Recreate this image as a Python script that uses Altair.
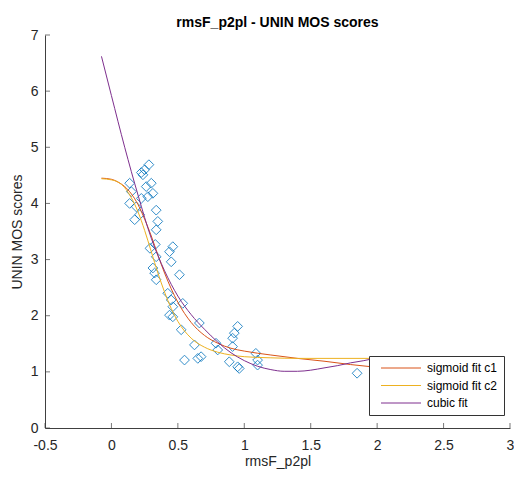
import altair as alt
import pandas as pd

title_text = "rmsF_p2pl - UNIN MOS scores"
x_title = "rmsF_p2pl"
y_title = "UNIN MOS scores"

# scatter (diamonds)
pt_x = [0.282, 0.25, 0.225, 0.237, 0.137, 0.30, 0.262, 0.15, 0.312, 0.274, 0.225, 0.137,
        0.187, 0.337, 0.212, 0.175, 0.349, 0.337, 0.29, 0.33, 0.462, 0.437, 0.45, 0.337,
        0.312, 0.325, 0.337, 0.512, 0.424, 0.45, 0.537, 0.462, 0.437, 0.462, 0.662, 0.525,
        0.625, 0.787, 0.80, 0.95, 0.925, 0.912, 0.912, 0.55, 0.65, 0.675, 0.887, 0.962,
        0.95, 1.087, 1.10, 1.10, 1.849]
pt_y = [4.69, 4.60, 4.55, 4.51, 4.36, 4.36, 4.30, 4.21, 4.18, 4.12, 4.09, 4.00,
        3.94, 3.88, 3.80, 3.71, 3.68, 3.53, 3.20, 3.27, 3.23, 3.14, 2.96, 3.05,
        2.85, 2.76, 2.64, 2.73, 2.40, 2.28, 2.22, 2.16, 2.01, 1.98, 1.87, 1.75,
        1.48, 1.51, 1.39, 1.81, 1.69, 1.60, 1.45, 1.21, 1.24, 1.27, 1.18, 1.06,
        1.09, 1.33, 1.21, 1.12, 0.975]

# fitted curves
c1_x = [-0.075, 0.0, 0.05, 0.1, 0.15, 0.2, 0.25, 0.3, 0.35, 0.4, 0.45, 0.5, 0.6, 0.7,
        0.8, 0.9, 1.0, 1.2, 1.4, 1.6, 1.8, 2.0]
c1_y = [4.45, 4.43, 4.38, 4.30, 4.17, 3.98, 3.72, 3.42, 3.08, 2.76, 2.48, 2.24, 1.88, 1.65,
        1.51, 1.42, 1.37, 1.30, 1.24, 1.19, 1.13, 1.08]
c2_x = [-0.075, 0.0, 0.05, 0.1, 0.15, 0.2, 0.25, 0.3, 0.35, 0.4, 0.45, 0.5, 0.6, 0.7,
        0.8, 0.9, 1.0, 1.2, 1.4, 2.0]
c2_y = [4.44, 4.42, 4.38, 4.28, 4.10, 3.85, 3.52, 3.14, 2.76, 2.42, 2.13, 1.90, 1.60, 1.44,
        1.35, 1.30, 1.27, 1.25, 1.24, 1.24]
cub_x = [-0.075, 0.0, 0.1, 0.2, 0.3, 0.4, 0.5, 0.6, 0.7, 0.8, 0.9, 1.0, 1.1, 1.2, 1.3,
         1.4, 1.5, 1.6, 1.7, 1.8, 1.9, 2.0]
cub_y = [6.62, 5.92, 5.00, 4.15, 3.38, 2.80, 2.35, 2.02, 1.76, 1.53, 1.34, 1.20, 1.10, 1.04,
         1.01, 1.01, 1.03, 1.07, 1.11, 1.16, 1.20, 1.25]

series_names = ["sigmoid fit c1", "sigmoid fit c2", "cubic fit"]
series_colors = ["#D95319", "#EDB120", "#7E2F8E"]

x_ticks = [-0.5, 0, 0.5, 1, 1.5, 2, 2.5, 3]
y_ticks = [0, 1, 2, 3, 4, 5, 6, 7]

FONT = "Liberation Sans"

pts = pd.DataFrame({"x": pt_x, "y": pt_y})
lines = pd.concat([
    pd.DataFrame({"x": c1_x, "y": c1_y, "s": series_names[0], "o": 0}),
    pd.DataFrame({"x": c2_x, "y": c2_y, "s": series_names[1], "o": 1}),
    pd.DataFrame({"x": cub_x, "y": cub_y, "s": series_names[2], "o": 2}),
], ignore_index=True)

xs = alt.Scale(domain=[-0.5, 3], nice=False, zero=False)
ys = alt.Scale(domain=[0, 7], nice=False, zero=False)

x_axis = alt.Axis(values=x_ticks, title=x_title, labelExpr="datum.value + ''",
                  labelFlush=False, labelPadding=10, titlePadding=2)
y_axis = alt.Axis(values=y_ticks, title=y_title, labelExpr="datum.value + ''",
                  labelFlush=False, labelPadding=7, titlePadding=6)

points = alt.Chart(pts).mark_point(shape="diamond", filled=False, size=95,
                                   color="#0072BD", strokeWidth=1, opacity=0.8).encode(
    x=alt.X("x:Q", scale=xs, axis=x_axis),
    y=alt.Y("y:Q", scale=ys, axis=y_axis),
)

curves = alt.Chart(lines).mark_line(strokeWidth=1, interpolate="monotone", clip=True).encode(
    x=alt.X("x:Q", scale=xs),
    y=alt.Y("y:Q", scale=ys),
    color=alt.Color("s:N", scale=alt.Scale(domain=series_names, range=series_colors),
                    legend=alt.Legend(title=None, orient="none", legendX=324, legendY=321,
                                      fillColor="white", strokeColor="#333333",
                                      padding=6, symbolType="M0,0H20", symbolSize=16,
                                      symbolStrokeWidth=1, labelFontSize=12,
                                      labelFont=FONT, labelColor="#000000",
                                      labelOffset=40, rowPadding=5.5)),
    detail="s:N",
    order="o:Q",
)

xt = alt.Chart(pd.DataFrame({"v": x_ticks})).mark_tick(
    orient="vertical", size=5, thickness=1, color="#404040", yOffset=-2.5).encode(
    x=alt.X("v:Q", scale=xs), y=alt.YDatum(0))
yt = alt.Chart(pd.DataFrame({"v": y_ticks})).mark_tick(
    orient="horizontal", size=5, thickness=1, color="#404040", xOffset=2.5).encode(
    y=alt.Y("v:Q", scale=ys), x=alt.XDatum(-0.5))

chart = alt.layer(points, curves, xt, yt).properties(
    width=465, height=393,
    title=alt.TitleParams(title_text, fontSize=14, fontWeight="bold", font=FONT,
                          anchor="middle", offset=0, dy=2, color="#000000"),
    autosize=alt.AutoSizeParams(type="none"),
    padding={"left": 37, "top": 27, "right": 4, "bottom": 42},
).configure_view(stroke=None).configure_axis(
    grid=False, tickSize=0, domainColor="#404040", domainWidth=1,
    labelFont=FONT, labelFontSize=14, labelColor="#262626",
    titleFont=FONT, titleFontSize=14, titleFontWeight="normal", titleColor="#262626",
)

chart.save("out.html", embed_options={"renderer": "svg", "actions": False})
